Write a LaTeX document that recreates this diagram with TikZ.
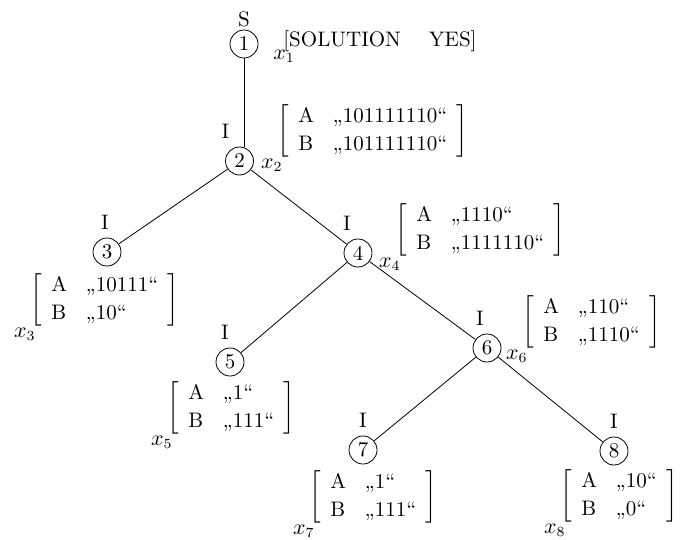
\documentclass[tikz,border=0pt]{standalone}
\usepackage{amsmath}
\usepackage{tikz}
\usetikzlibrary{positioning}
\tikzset{
  csucs/.style={circle,draw,inner sep=0pt,minimum size=14pt},
  cimke/.style={inner sep=0pt},
  tomb/.style={inner sep=0pt,anchor=west},
  xjel/.style={inner sep=0pt,anchor=east,xshift=3pt,yshift=-3pt},
  ag/.style={thin},
}
\setlength{\arraycolsep}{4.7pt}
\newcommand{\allapot}[2]{$\left[\begin{array}{ll}\text{A} & \text{„#1“}\\ \text{B} & \text{„#2“}\end{array}\right]$}

\begin{document}
\begin{tikzpicture}[x=0.5pt,y=-0.5pt,label distance=4pt,font=\fontsize{10.5}{13.8}\selectfont]
  \useasboundingbox (0,0) rectangle (680,540);
  % csucsok
  \node[csucs,label={[cimke,yshift=-3pt]above:S}] (n1) at (244,44) {1};
  \node[csucs,label={[cimke,xshift=-7pt]above:I}] (n2) at (239.5,161) {2};
  \node[csucs,label={[cimke,xshift=-1pt]above:I}] (n3) at (107,252) {3};
  \node[csucs,label={[cimke,xshift=-5.5pt]above:I}] (n4) at (358,253) {4};
  \node[csucs,label={[cimke,xshift=-2.5pt]above:I}] (n5) at (230,362) {5};
  \node[csucs,label={[cimke,xshift=-3.5pt]above:I}] (n6) at (487,348) {6};
  \node[csucs,label={[cimke]above:I}] (n7) at (363,450) {7};
  \node[csucs,label={[cimke]above:I}] (n8) at (614,451) {8};
  % allapotok
  \node[cimke,anchor=base west] (m1) at (283,47) {[SOLUTION\hspace{14pt}YES]};
  \node[cimke] (x1) at (284,56) {$x_1$};
  \node[tomb] (m2) at (277,131) {\allapot{101111110}{101111110}};
  \node[tomb] (m3) at (30,300) {\allapot{10111}{10}};
  \node[tomb] (m4) at (395,230) {\allapot{1110}{1111110}};
  \node[tomb] (m5) at (167,408) {\allapot{1}{111}};
  \node[tomb] (m6) at (522,322) {\allapot{110}{1110}};
  \node[tomb] (m7) at (309,497) {\allapot{1}{111}};
  \node[tomb] (m8) at (560,496) {\allapot{10}{0}};
  \node[xjel] (x2) at (m2.south west) {$x_2$};
  \node[xjel] (x3) at (m3.south west) {$x_3$};
  \node[xjel] (x4) at (m4.south west) {$x_4$};
  \node[xjel] (x5) at (m5.south west) {$x_5$};
  \node[xjel] (x6) at (m6.south west) {$x_6$};
  \node[xjel] (x7) at (m7.south west) {$x_7$};
  \node[xjel] (x8) at (m8.south west) {$x_8$};
  % agak
  \draw[ag] (n1) -- (n1 |- n2.north);
  \draw[ag] (n2) -- (n3);
  \draw[ag] (n2) -- (n4);
  \draw[ag] (n4) -- (n5);
  \draw[ag] (n4) -- (n6);
  \draw[ag] (n6) -- (n7);
  \draw[ag] (n6) -- (n8);
\end{tikzpicture}
\end{document}
